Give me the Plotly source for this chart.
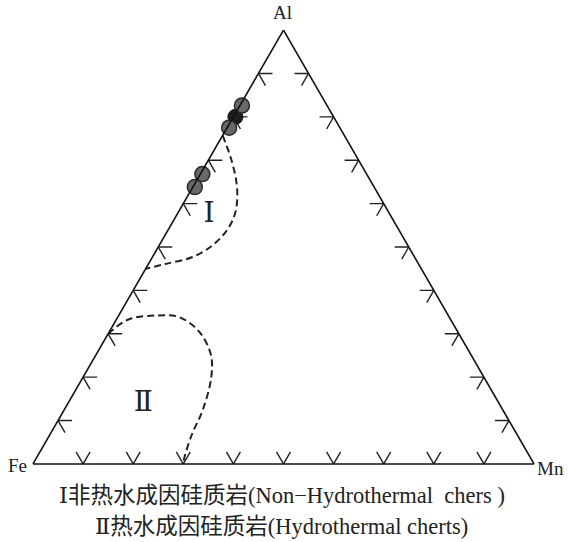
"""Al-Fe-Mn ternary discrimination diagram for siliceous rocks (cherts)."""

import plotly.graph_objects as go

# sample points (fractions of Al, Fe, Mn)
SAMPLE_AL = [0.826, 0.775, 0.668, 0.638]
SAMPLE_FE = [0.170, 0.221, 0.328, 0.358]
SAMPLE_MN = [0.004, 0.004, 0.004, 0.004]

# the darker sample, partly hidden behind the others
DARK_AL = [0.800]
DARK_FE = [0.196]
DARK_MN = [0.004]

# boundary of field I (non-hydrothermal)
FIELD1_AL = [0.757, 0.695, 0.633, 0.580, 0.541, 0.505, 0.477, 0.461, 0.450]
FIELD1_MN = [0.000, 0.050, 0.091, 0.114, 0.118, 0.107, 0.080, 0.034, 0.000]

# boundary of field II (hydrothermal)
FIELD2_AL = [0.300, 0.333, 0.342, 0.339, 0.305, 0.252, 0.197, 0.122, 0.069, 0.014, 0.000]
FIELD2_MN = [0.000, 0.024, 0.074, 0.121, 0.179, 0.229, 0.257, 0.277, 0.283, 0.295, 0.300]

# field labels
LABEL_TEXT = ["Ⅰ", "Ⅱ"]
LABEL_AL = [0.573, 0.138]
LABEL_MN = [0.065, 0.151]

TICKS = [0.1, 0.2, 0.3, 0.4, 0.5, 0.6, 0.7, 0.8, 0.9]
TICK_LEN = 0.028

CAPTION_1 = "Ⅰ非热水成因硅质岩(Non−Hydrothermal  chers )"
CAPTION_2 = "Ⅱ热水成因硅质岩(Hydrothermal cherts)"

SERIF = "Liberation Serif, DejaVu Serif, Noto Sans CJK SC"


def rest(al, mn):
    return [round(1 - a - m, 4) for a, m in zip(al, mn)]


def chevrons():
    """Arrow-like tick marks: two short arms from each tick point into the triangle."""
    a, b, c = [], [], []

    def seg(p, q):
        a.extend([p[0], q[0], None])
        b.extend([p[1], q[1], None])
        c.extend([p[2], q[2], None])

    L = TICK_LEN
    for t in TICKS:
        # Fe-Al edge (Mn = 0)
        p = (t, 1 - t, 0)
        seg(p, (t, 1 - t - L, L))
        seg(p, (t - L, 1 - t, L))
        # Al-Mn edge (Fe = 0)
        p = (t, 0, 1 - t)
        seg(p, (t, L, 1 - t - L))
        seg(p, (t - L, L, 1 - t))
        # Fe-Mn edge (Al = 0)
        p = (0, 1 - t, t)
        seg(p, (L, 1 - t - L, t))
        seg(p, (L, 1 - t, t - L))
    return a, b, c


fig = go.Figure()

ta, tb, tc = chevrons()
fig.add_trace(go.Scatterternary(
    a=ta, b=tb, c=tc, mode="lines",
    line=dict(color="#222222", width=1.4),
    hoverinfo="skip", showlegend=False,
))

for al, mn in [(FIELD1_AL, FIELD1_MN), (FIELD2_AL, FIELD2_MN)]:
    fig.add_trace(go.Scatterternary(
        a=al, b=rest(al, mn), c=mn, mode="lines",
        line=dict(color="#222222", width=2, dash="7px,4px", shape="spline"),
        hoverinfo="skip", showlegend=False,
    ))

fig.add_trace(go.Scatterternary(
    a=DARK_AL, b=DARK_FE, c=DARK_MN, mode="markers",
    marker=dict(size=15, color="#1c1c1c", line=dict(color="#111111", width=1)),
    cliponaxis=False, showlegend=False,
))
fig.add_trace(go.Scatterternary(
    a=SAMPLE_AL, b=SAMPLE_FE, c=SAMPLE_MN, mode="markers",
    marker=dict(size=15, color="#686868", line=dict(color="#2a2a2a", width=1.5)),
    cliponaxis=False, showlegend=False,
))

fig.add_trace(go.Scatterternary(
    a=LABEL_AL, b=rest(LABEL_AL, LABEL_MN), c=LABEL_MN, mode="text",
    text=LABEL_TEXT,
    textfont=dict(family=SERIF, size=28, color="#222222"),
    hoverinfo="skip", showlegend=False,
))

axis = dict(
    showticklabels=False, ticks="", showgrid=False,
    linecolor="#111111", linewidth=1.6, title=dict(text=""),
)


def label(text, x, y, size):
    return dict(text=text, x=x, y=y, xref="paper", yref="paper",
                xanchor="center", yanchor="middle",
                showarrow=False, font=dict(size=size))


fig.update_layout(
    width=569, height=542,
    margin=dict(l=33, r=35, t=29, b=77),
    paper_bgcolor="white",
    ternary=dict(
        sum=1, bgcolor="white",
        domain=dict(x=[0, 1], y=[0, 1]),
        aaxis=axis, baxis=axis, caxis=axis,
    ),
    font=dict(family=SERIF, color="#222222"),
    annotations=[
        label("Al", 0.499, 1.037, 19),
        label("Fe", -0.030, -0.002, 19),
        label("Mn", 1.032, -0.007, 19),
        label(CAPTION_1, 0.497, -0.069, 22.5),
        label(CAPTION_2, 0.497, -0.142, 22.5),
    ],
)

fig.write_html(
    "out.html",
    config={"displayModeBar": False},
    post_script="document.body.style.margin = '0px';",
)
